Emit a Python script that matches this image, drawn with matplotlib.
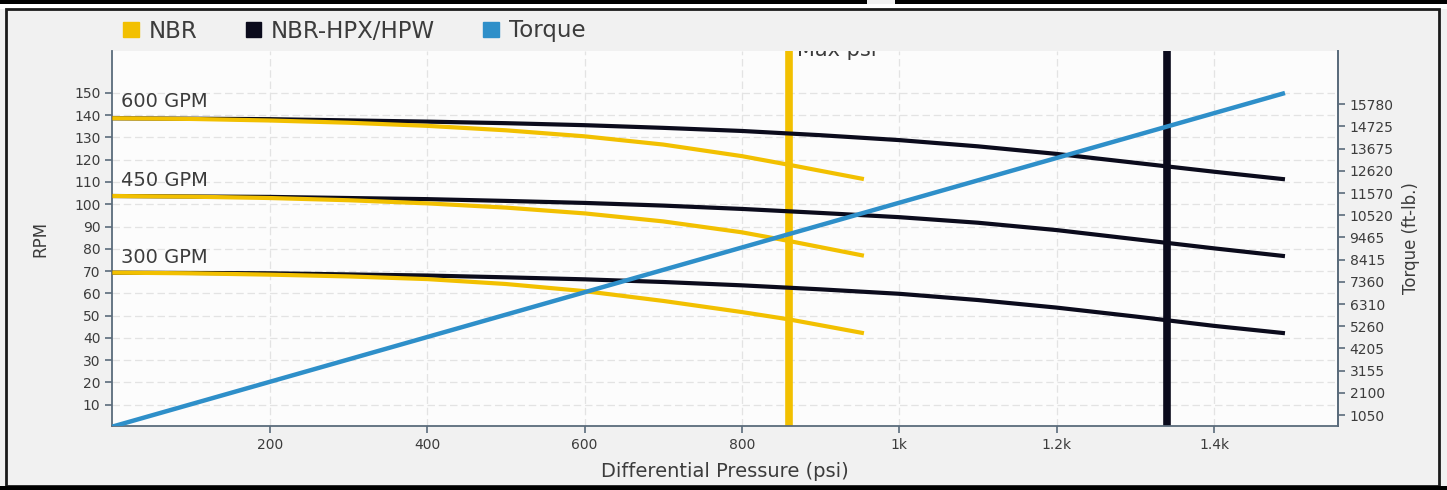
import matplotlib
matplotlib.use('Agg')
import matplotlib.pyplot as plt
from matplotlib.patches import Patch, Rectangle
from matplotlib.ticker import FixedLocator

plt.rcParams['font.family'] = ['DejaVu Sans']

# NBR curves (psi -> rpm)
nbr_psi = [0, 100, 200, 300, 400, 500, 600, 700, 800, 860, 955]
nbr_600 = [138.6, 138.3, 137.6, 136.6, 135.2, 133.2, 130.5, 126.8, 121.6, 117.7, 111.3]
nbr_450 = [103.7, 103.4, 102.8, 101.8, 100.4, 98.5, 95.9, 92.3, 87.4, 83.5, 76.9]
nbr_300 = [69.3, 69.0, 68.4, 67.6, 66.4, 64.2, 61.0, 56.6, 51.6, 48.3, 42.1]

# NBR-HPX/HPW curves
hpx_psi = [0, 200, 400, 500, 600, 700, 800, 900, 1000, 1100, 1200, 1300, 1400, 1490]
hpx_600 = [138.6, 138.2, 137.1, 136.4, 135.5, 134.3, 132.9, 131.0, 128.8, 126.0, 122.6, 118.6, 114.6, 111.2]
hpx_450 = [103.7, 103.3, 102.3, 101.5, 100.6, 99.4, 97.9, 96.1, 94.2, 91.7, 88.4, 84.3, 80.2, 76.7]
hpx_300 = [69.3, 69.0, 68.0, 67.2, 66.3, 65.1, 63.6, 61.8, 59.8, 57.0, 53.6, 49.6, 45.4, 42.1]

# torque (psi -> ft-lb)
torque_psi = [0, 1490]
torque_val = [500, 16310]

max_psi_nbr = 860
max_psi_hpx = 1340

gpm_labels = ['600 GPM', '450 GPM', '300 GPM']
gpm_label_y = [143.5, 108.2, 73.5]

x_ticks = [200, 400, 600, 800, 1000, 1200, 1400]
x_tick_labels = ['200', '400', '600', '800', '1k', '1.2k', '1.4k']
rpm_ticks = list(range(10, 160, 10))
torque_ticks = [1050, 2100, 3155, 4205, 5260, 6310, 7360, 8415, 9465,
                10520, 11570, 12620, 13675, 14725, 15780]

YELLOW = '#f2c000'
BLACK = '#0b0b1c'
BLUE = '#2e8fc9'
AXC = '#5a6b7b'
TXT = '#3c3c3c'

W, H = 1447, 490
fig = plt.figure(figsize=(W / 100, H / 100), dpi=100)
fig.patch.set_facecolor('#f1f1f1')

ax = fig.add_axes([112.3 / W, 1 - 426 / H, 1225.4 / W, 375 / H])
ax.set_facecolor('#fcfcfc')
ax.set_xlim(0, 1557)
ax.set_ylim(0.45, 168.8)

ax.grid(True, color='#e3e3e3', linestyle=(0, (6, 3)), linewidth=0.9, zorder=0)
ax.set_axisbelow(True)

# max pressure markers
ax.axvline(max_psi_nbr, color=YELLOW, lw=5.5, zorder=2)
ax.axvline(max_psi_hpx, color=BLACK, lw=5.5, zorder=2)
ax.text(max_psi_nbr + 10, 166.4, 'Max psi', fontsize=15, color=TXT,
        ha='left', va='baseline', clip_on=True, zorder=6)

for ys in (hpx_600, hpx_450, hpx_300):
    ax.plot(hpx_psi, ys, color=BLACK, lw=3, solid_capstyle='butt',
            solid_joinstyle='round', zorder=3)
for ys in (nbr_600, nbr_450, nbr_300):
    ax.plot(nbr_psi, ys, color=YELLOW, lw=3, solid_capstyle='butt',
            solid_joinstyle='round', zorder=4)

for lab, yy in zip(gpm_labels, gpm_label_y):
    ax.text(10.5, yy, lab, fontsize=14, color=TXT, ha='left', va='baseline', zorder=6)

ax.xaxis.set_major_locator(FixedLocator(x_ticks))
ax.set_xticklabels(x_tick_labels)
ax.set_yticks(rpm_ticks)

ax.spines['top'].set_visible(False)
for s in ('left', 'bottom', 'right'):
    ax.spines[s].set_color(AXC)
    ax.spines[s].set_linewidth(1.3)
ax.tick_params(axis='both', colors=AXC, labelcolor=TXT, labelsize=10, length=5, width=1.2)

ax.set_xlabel('Differential Pressure (psi)', fontsize=14, color=TXT, labelpad=7)
ax.set_ylabel('RPM', fontsize=12, color=TXT, labelpad=18)

ax2 = ax.twinx()
ax2.set_ylim(530, 18300)
ax2.set_yticks(torque_ticks)
ax2.plot(torque_psi, torque_val, color=BLUE, lw=3.2, solid_capstyle='butt', zorder=5)
for s in ('top', 'left', 'bottom'):
    ax2.spines[s].set_visible(False)
ax2.spines['right'].set_color(AXC)
ax2.spines['right'].set_linewidth(1.3)
ax2.tick_params(axis='y', colors=AXC, labelcolor=TXT, labelsize=10, length=5, width=1.2)
ax2.set_ylabel('Torque (ft-lb.)', fontsize=12, color=TXT, labelpad=6)

handles = [Patch(color=YELLOW), Patch(color=BLACK), Patch(color=BLUE)]
fig.legend(handles, ['NBR', 'NBR-HPX/HPW', 'Torque'], loc='center left',
           bbox_to_anchor=(112 / W, 1 - 31 / H), ncol=3, frameon=False,
           fontsize=16.5, handlelength=0.66, handleheight=0.66, handletextpad=0.45,
           columnspacing=2.1, borderpad=0, labelcolor=TXT)

# screenshot frame
def px_rect(x0, y0, x1, y1, **kw):
    fig.add_artist(Rectangle((x0 / W, 1 - y1 / H), (x1 - x0) / W, (y1 - y0) / H,
                             transform=fig.transFigure, **kw))

px_rect(0, 0, 867, 4.5, color='black', lw=0)
px_rect(895, 0, W, 4.5, color='black', lw=0)
px_rect(0, 4.5, W, 9, color='white', lw=0)
px_rect(6, 9.5, 1439, 486, fill=False, ec='#1a1a1a', lw=2)
px_rect(0, 486, W, H, color='black', lw=0)

fig.savefig('out.png', dpi=100, facecolor=fig.get_facecolor())
